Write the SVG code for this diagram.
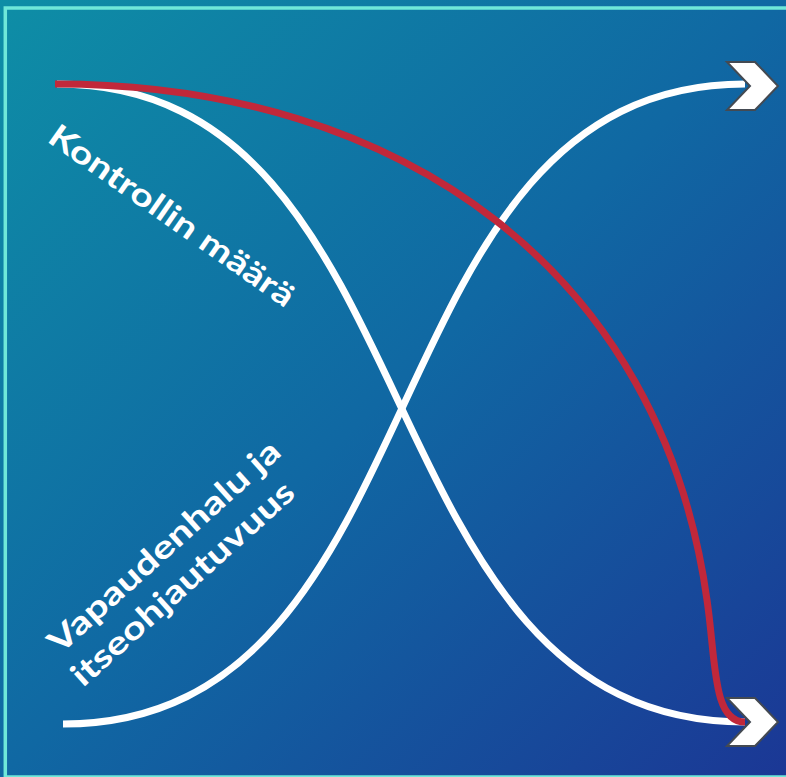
<svg xmlns="http://www.w3.org/2000/svg" width="786" height="777" viewBox="0 0 786 777">
  <defs>
    <linearGradient id="bg" x1="0" y1="0" x2="1" y2="1">
      <stop offset="0" stop-color="#0e8ea6"/>
      <stop offset="0.5" stop-color="#1068a3"/>
      <stop offset="1" stop-color="#1b3795"/>
    </linearGradient>
    <style>
      .curve { fill: none; stroke-width: 7; stroke-linecap: butt; }
      .white { stroke: #ffffff; }
      .red { stroke: #c1283a; }
      .arrow { fill: #ffffff; stroke: #444a52; stroke-width: 2; stroke-linejoin: miter; }
      .label { fill: #ffffff; font-family: Lato, "Open Sans", "Liberation Sans", sans-serif; font-weight: 700; font-size: 32px; }
    </style>
  </defs>
  <rect x="0" y="0" width="786" height="777" fill="url(#bg)"/>
  <rect x="5.3" y="8" width="790" height="769" fill="none" stroke="#6fe8d9" stroke-width="3.5"/>

  <g id="connectors">
    <path class="curve white" d="M57,84 C442,84 355,722 745,722"/>
    <path class="curve white" d="M63,724 C448,724 360,84 745,84"/>
    <path class="curve red" d="M55,84 C405,84 662,275 707,600 C716,660 712,722 745,722"/>
  </g>

  <g id="arrow-top">
    <polygon class="arrow" points="727,62 755,62 778,86 755,110 727,110 750,86"/>
  </g>
  <g id="arrow-bottom">
    <polygon class="arrow" points="727,698 755,698 778,722 755,746 727,746 750,722"/>
  </g>

  <g id="label-kontrolli">
    <text class="label" transform="translate(46,141) rotate(35)" x="0" y="0" textLength="292" lengthAdjust="spacingAndGlyphs">Kontrollin määrä</text>
  </g>
  <g id="label-vapaus">
    <text class="label" transform="translate(60,655) rotate(-42)">
      <tspan x="0" y="0" textLength="300" lengthAdjust="spacingAndGlyphs">Vapaudenhalu ja</tspan>
      <tspan x="-5" y="40" textLength="288" lengthAdjust="spacingAndGlyphs">itseohjautuvuus</tspan>
    </text>
  </g>
</svg>
